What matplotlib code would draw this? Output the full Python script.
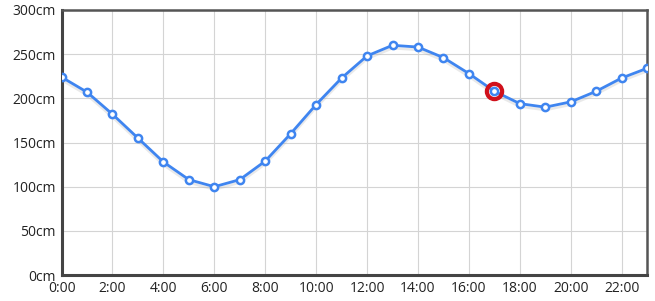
import matplotlib
matplotlib.use("Agg")
import matplotlib.pyplot as plt
import matplotlib.patheffects as pe

plt.rcParams['font.family'] = ['Open Sans', 'DejaVu Sans']

# tide level by hour
hours = list(range(24))
level_cm = [224, 207, 182, 155, 128, 108, 100, 108, 129, 160, 193, 223,
            248, 260, 258, 246, 228, 208, 194, 190, 196, 208, 223, 234]
now_hour = 17
y_ticks = [0, 50, 100, 150, 200, 250, 300]
x_ticks = list(range(0, 24, 2))

blue = '#3f85f0'
red = '#d0101b'

fig = plt.figure(figsize=(6.55, 3.01), dpi=100)
ax = fig.add_axes([0.094, 0.086, 0.894, 0.881])

ax.plot(hours, level_cm, color=blue, lw=2, zorder=3,
        path_effects=[pe.SimpleLineShadow(offset=(0, -2), shadow_color='#aaaaaa', alpha=0.25), pe.Normal()])
ax.plot(hours, level_cm, ls='none', marker='o', ms=5.2, mfc='white', mec=blue, mew=1.8, zorder=4)
ax.plot(now_hour, level_cm[now_hour], marker='o', ms=11, mfc='none', mec=red, mew=3, zorder=5)

ax.set_xlim(0, 23)
ax.set_ylim(0, 300)
ax.set_xticks(x_ticks)
ax.set_xticklabels([f'{h}:00' for h in x_ticks])
ax.set_yticks(y_ticks)
ax.set_yticklabels([f'{v}cm' for v in y_ticks])
ax.tick_params(length=0, labelsize=10, colors='#222222')
ax.tick_params(axis='x', pad=4)
ax.tick_params(axis='y', pad=4)
ax.grid(color='#d4d4d4', lw=0.8)
ax.set_axisbelow(True)
for side in ['left', 'bottom']:
    ax.spines[side].set_linewidth(2.2)
    ax.spines[side].set_color('#444444')
for side in ['top', 'right']:
    ax.spines[side].set_linewidth(1.8)
    ax.spines[side].set_color('#555555')

fig.savefig('out.png', dpi=100)
